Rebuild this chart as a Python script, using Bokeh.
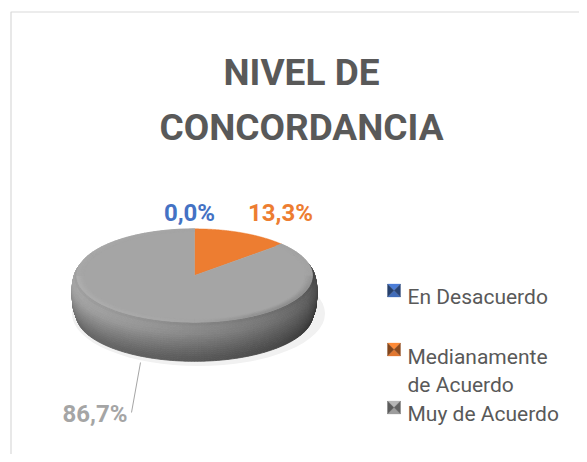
import numpy as np
from bokeh.plotting import figure
from bokeh.models import Range1d
from bokeh.core.properties import value
from bokeh.embed import file_html
from bokeh.resources import INLINE

# ---- data ----
categories = ["En Desacuerdo", "Medianamente de Acuerdo", "Muy de Acuerdo"]
legend_lines = [["En Desacuerdo"], ["Medianamente", "de Acuerdo"], ["Muy de Acuerdo"]]
percentages = [0.0, 13.3, 86.7]
colors = ["#4472C4", "#ED7D31", "#A5A5A5"]
title_lines = ["NIVEL DE", "CONCORDANCIA"]

W, H = 579, 454


def Y(py):
    # image row -> data y (1 data unit == 1 px)
    return H - py


def shade(hexc, f):
    hexc = hexc.lstrip("#")
    r, g, b = (int(hexc[i:i + 2], 16) for i in (0, 2, 4))
    r, g, b = (int(max(0, min(255, round(c * f)))) for c in (r, g, b))
    return "#%02x%02x%02x" % (r, g, b)


p = figure(width=W, height=H, x_range=Range1d(0, W), y_range=Range1d(0, H),
           output_backend="svg", toolbar_location=None,
           x_axis_type=None, y_axis_type=None, min_border=0)
p.grid.visible = False
p.outline_line_color = None
p.background_fill_color = "white"
p.border_fill_color = "white"

# chart area border
p.quad(left=10.5, right=640, top=Y(11.5), bottom=-30, fill_color=None,
       line_color="#d9d9d9", line_width=1.2)

# ---- pie geometry ----
cx, cy = 194.0, Y(275)
a, b = 122.5, 48.5
depth = 39.0
k_top = 0.962

vals = np.array(percentages, dtype=float)
fr = vals / vals.sum()
cum = np.concatenate([[0.0], np.cumsum(fr)])


def slice_at(theta_deg):
    f = ((90 - theta_deg) % 360) / 360.0
    return int(np.clip(np.searchsorted(cum, f, side="right") - 1, 0, len(vals) - 1))


# faint shadow
p.ellipse(x=cx + 4, y=cy - depth + 1, width=2 * a + 8, height=2 * b + 8,
          fill_color="#f1f1f1", line_color=None)

# side with rounded (bevelled) edge and smooth shading
nl = 18
sb = np.linspace(0, 1, nl + 1)
prof_s = [0.0, 0.1, 0.25, 0.45, 0.7, 0.88, 1.0]
prof_g = [1.0, 1.06, 1.02, 0.9, 0.76, 0.68, 0.66]
kprof_s = [0.0, 0.12, 0.3, 0.5, 0.75, 1.0]
kprof_k = [k_top, 0.988, 0.999, 1.0, 0.993, 0.965]
thetas = np.linspace(-195, 15, 141)
sx, sy, sc = [], [], []
for d0, d1 in zip(sb[:-1], sb[1:]):
    k0, k1 = np.interp(d0, kprof_s, kprof_k), np.interp(d1, kprof_s, kprof_k)
    g = np.interp(0.5 * (d0 + d1), prof_s, prof_g)
    for t1, t2 in zip(thetas[:-1], thetas[1:]):
        tm = 0.5 * (t1 + t2)
        idx = slice_at(tm)
        u = float(np.clip((tm + 180) / 180.0, 0, 1))
        h = 0.95 - 0.52 * u ** 1.8
        r1, r2 = np.radians(t1), np.radians(t2)
        c1, c2, s1, s2 = np.cos(r1), np.cos(r2), np.sin(r1), np.sin(r2)
        sx.append([cx + k0 * a * c1, cx + k0 * a * c2, cx + k1 * a * c2, cx + k1 * a * c1])
        sy.append([cy + k0 * b * s1 - d0 * depth, cy + k0 * b * s2 - d0 * depth,
                   cy + k1 * b * s2 - d1 * depth, cy + k1 * b * s1 - d1 * depth])
        sc.append(shade(colors[idx], h * g))
order = list(range(len(sx)))[::-1]
p.patches(xs=[sx[i] for i in order], ys=[sy[i] for i in order],
          fill_color=[sc[i] for i in order], line_color=[sc[i] for i in order], line_width=0.8)

# top face wedges
tx, ty, tc = [], [], []
for i in range(len(vals)):
    if fr[i] <= 0:
        continue
    phi = np.radians(np.linspace(90 - 360 * cum[i], 90 - 360 * cum[i + 1], 200))
    tx.append([cx] + list(cx + k_top * a * np.cos(phi)))
    ty.append([cy] + list(cy + k_top * b * np.sin(phi)))
    tc.append(colors[i])
p.patches(xs=tx, ys=ty, fill_color=tc, line_color=tc, line_width=0.5)

# bevel rim on the top face (shading toward the edge)
rk = np.linspace(0.90, k_top, 6)
rth = np.linspace(-180, 180, 145)
rx, ry, rc = [], [], []
for j, (k0, k1) in enumerate(zip(rk[:-1], rk[1:])):
    w = (j + 0.5) / (len(rk) - 1)
    for t1, t2 in zip(rth[:-1], rth[1:]):
        tm = 0.5 * (t1 + t2)
        idx = slice_at(tm)
        if tm > 0 and idx != len(vals) - 1:
            continue
        rm = np.radians(tm)
        light = 0.06 * (-np.cos(rm)) - 0.16 * max(0.0, np.cos(rm)) * max(0.0, -np.sin(rm) + 0.2)
        if tm > 0:
            light *= 0.3
        fac = 1 + light * w
        r1, r2 = np.radians(t1), np.radians(t2)
        c1, c2, s1, s2 = np.cos(r1), np.cos(r2), np.sin(r1), np.sin(r2)
        rx.append([cx + k0 * a * c1, cx + k0 * a * c2, cx + k1 * a * c2, cx + k1 * a * c1])
        ry.append([cy + k0 * b * s1, cy + k0 * b * s2, cy + k1 * b * s2, cy + k1 * b * s1])
        rc.append(shade(colors[idx], fac))
p.patches(xs=rx, ys=ry, fill_color=rc, line_color=rc, line_width=0.6)

# ---- data labels ----
labels = [f"{v:.1f}%".replace(".", ",") for v in percentages]
lab_pos = [(189, 212, "center"), (280, 212, "center"), (127, 413, "right")]
for txt, col, (lx, ly, al) in zip(labels, colors, lab_pos):
    p.text(x=[lx], y=[Y(ly)], text=[txt], text_color=col,
           text_font=value("Roboto"), text_font_style="bold", text_font_size="24px",
           text_align=al, text_baseline="alphabetic")
# leader line for last label
p.line(x=[131, 140], y=[Y(412), Y(362)], line_color="#a5a5a5", line_width=1)

# ---- title ----
for line, ty_ in zip(title_lines, [72, 127]):
    p.text(x=[301], y=[Y(ty_)], text=[line], text_color="#595959",
           text_font=value("Roboto"), text_font_style="bold", text_font_size="37px",
           text_align="center", text_baseline="alphabetic")

# ---- legend ----
mk_top = [283.5, 342.5, 400.5]
text_base = [[296.5], [356, 384.5], [413]]
for col, lines, mt, tb in zip(colors, legend_lines, mk_top, text_base):
    x0, x1 = 387.0, 400.0
    y0, y1 = Y(mt), Y(mt + 13)
    xm, ym = 0.5 * (x0 + x1), 0.5 * (y0 + y1)
    tris_x = [[x0, x1, xm], [x0, x1, xm], [x0, x0, xm], [x1, x1, xm]]
    tris_y = [[y0, y0, ym], [y1, y1, ym], [y0, y1, ym], [y0, y1, ym]]
    tcols = [shade(col, 1.1), shade(col, 0.95), shade(col, 0.55), shade(col, 0.6)]
    p.patches(xs=tris_x, ys=tris_y, fill_color=tcols, line_color=tcols, line_width=0.3)
    for ln, bl in zip(lines, tb):
        p.text(x=[407], y=[Y(bl)], text=[ln], text_color="#595959",
               text_font=value("Roboto"), text_font_size="21px",
               text_align="left", text_baseline="alphabetic")

open("out.html", "w").write(file_html(p, INLINE))
